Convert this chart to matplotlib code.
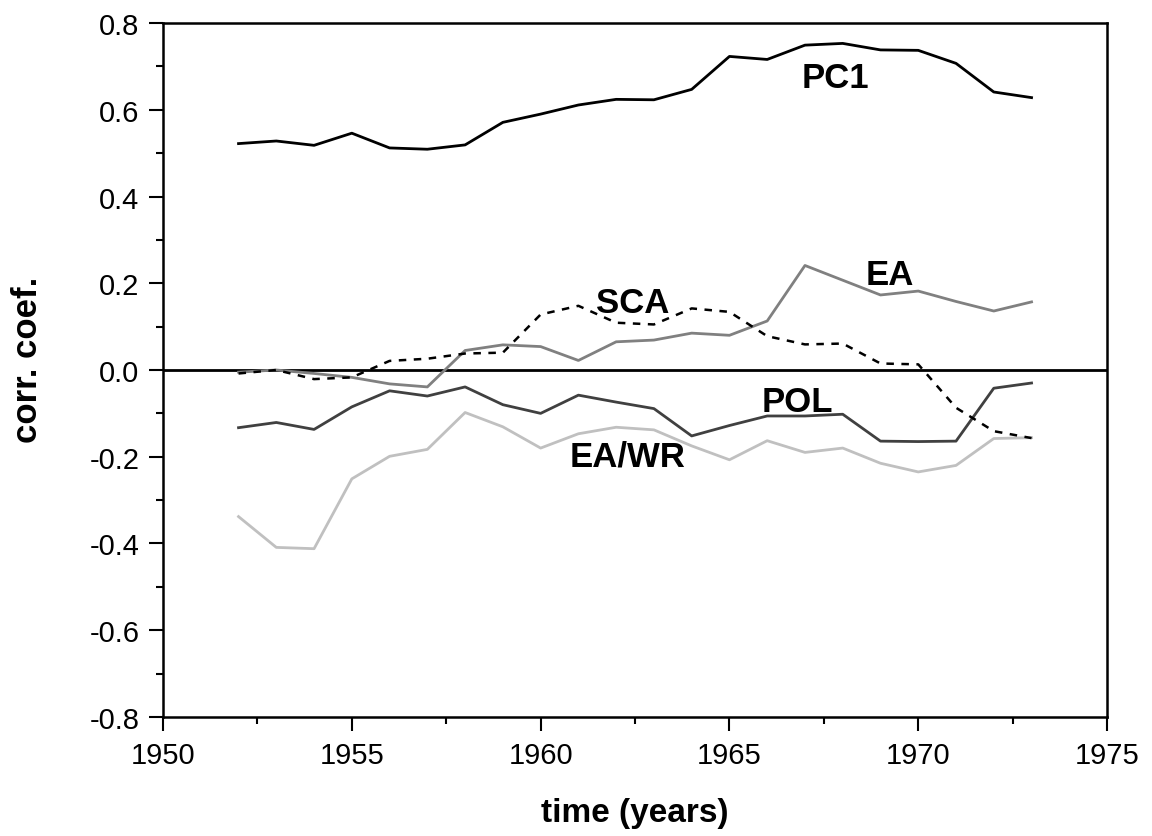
import numpy as np
import matplotlib
matplotlib.use("Agg")
import matplotlib.pyplot as plt
from matplotlib.ticker import MultipleLocator

plt.rcParams['font.family'] = ['Liberation Sans', 'DejaVu Sans']

years = np.arange(1952, 1974)

pc1 = [0.522, 0.528, 0.518, 0.546, 0.512, 0.509, 0.519, 0.571, 0.590, 0.611, 0.624,
       0.623, 0.647, 0.723, 0.716, 0.749, 0.753, 0.738, 0.737, 0.707, 0.641, 0.628]
ea = [-0.005, 0.0, -0.008, -0.017, -0.032, -0.039, 0.045, 0.058, 0.054, 0.022, 0.065,
      0.069, 0.085, 0.080, 0.113, 0.241, 0.207, 0.173, 0.182, 0.158, 0.136, 0.157]
sca = [-0.008, 0.0, -0.021, -0.017, 0.021, 0.026, 0.038, 0.040, 0.128, 0.148, 0.109,
       0.105, 0.142, 0.134, 0.078, 0.059, 0.061, 0.015, 0.013, -0.087, -0.141, -0.157]
pol = [-0.133, -0.121, -0.137, -0.085, -0.048, -0.060, -0.039, -0.080, -0.100, -0.058, -0.074,
       -0.089, -0.152, -0.128, -0.106, -0.106, -0.102, -0.164, -0.165, -0.164, -0.042, -0.030]
eawr = [-0.338, -0.409, -0.412, -0.251, -0.199, -0.183, -0.098, -0.131, -0.180, -0.147, -0.132,
        -0.138, -0.175, -0.207, -0.163, -0.190, -0.180, -0.215, -0.235, -0.220, -0.158, -0.156]

fig = plt.figure(figsize=(11.52, 8.37), dpi=100)
ax = fig.add_axes([0.1415, 0.1422, 0.8195, 0.8291])

ax.axhline(0, color='black', lw=2.0, zorder=1)
ax.plot(years, eawr, color='#c0c0c0', lw=2.0)
ax.plot(years, pol, color='#404040', lw=2.0)
ax.plot(years, ea, color='#808080', lw=2.0)
ax.plot(years, sca, color='black', lw=1.8, ls=(0, (3, 3)))
ax.plot(years, pc1, color='black', lw=2.0)

lab = dict(fontsize=25, fontweight='bold', ha='center', va='center')
ax.text(1967.8, 0.674, 'PC1', **lab)
ax.text(1962.45, 0.156, 'SCA', **lab)
ax.text(1969.25, 0.221, 'EA', **lab)
ax.text(1966.8, -0.072, 'POL', **lab)
ax.text(1962.3, -0.198, 'EA/WR', **lab)

ax.set_xlim(1950, 1975)
ax.set_ylim(-0.8, 0.8)
ax.xaxis.set_major_locator(MultipleLocator(5))
ax.xaxis.set_minor_locator(MultipleLocator(2.5))
ax.yaxis.set_major_locator(MultipleLocator(0.2))
ax.yaxis.set_minor_locator(MultipleLocator(0.1))
ax.yaxis.set_major_formatter(plt.FuncFormatter(lambda v, p: f'{v:.1f}'))

ax.tick_params(which='major', direction='out', length=10, width=1.5, labelsize=21, pad=7)
ax.tick_params(which='minor', direction='out', length=5, width=1.5)
for s in ax.spines.values():
    s.set_linewidth(1.8)

ax.set_xlabel('time (years)', fontsize=24, fontweight='bold', va='center')
ax.set_ylabel('corr. coef.', fontsize=25, fontweight='bold', va='center')
ax.xaxis.set_label_coords(0.5, -0.137)
ax.yaxis.set_label_coords(-0.1435, 0.516)

fig.savefig('out.png', dpi=100)
